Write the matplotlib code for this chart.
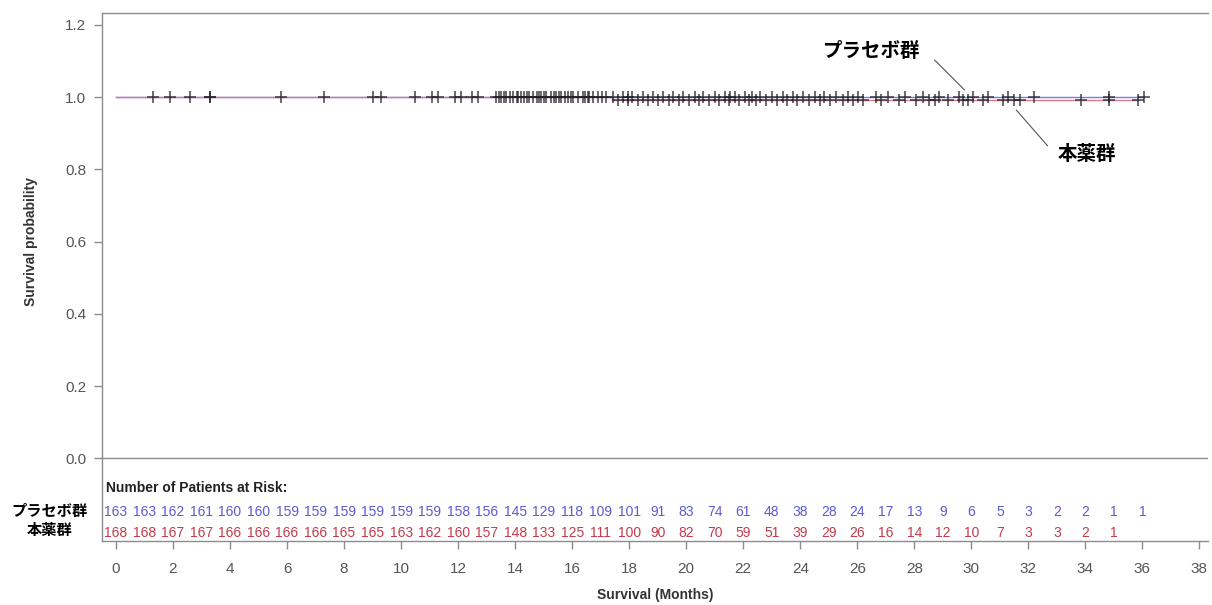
import matplotlib
matplotlib.use('Agg')
import matplotlib.pyplot as plt
import numpy as np

plt.rcParams['font.family'] = ['Liberation Sans', 'DejaVu Sans']

# 時間軸（月）
months_placebo = list(range(0, 37))
months_drug = list(range(0, 36))

# Number of Patients at Risk
risk_placebo = [163, 163, 162, 161, 160, 160, 159, 159, 159, 159, 159, 159, 158, 156, 145, 129,
                118, 109, 101, 91, 83, 74, 61, 48, 38, 28, 24, 17, 13, 9, 6, 5, 3, 2, 2, 1, 1]
risk_drug = [168, 168, 167, 167, 166, 166, 166, 166, 165, 165, 163, 162, 160, 157, 148, 133,
             125, 111, 100, 90, 82, 70, 59, 51, 39, 29, 26, 16, 14, 12, 10, 7, 3, 3, 2, 1]

# 生存曲線（階段関数）
surv_t_placebo = [0.0, 36.05]
surv_placebo = [1.0, 1.0]
surv_t_drug = [0.0, 17.4, 35.85]
surv_drug = [1.0, 0.991, 0.991]

# 打ち切り
censor_placebo = [1.3, 2.6, 3.3, 5.8, 11.3, 12.1, 12.7,
                  13.34, 13.6, 13.67, 13.93, 14.1, 14.22, 14.5, 14.61, 14.92, 15.1, 15.35, 15.45,
                  15.74, 15.95, 16.03, 16.38, 16.6, 16.73, 17.06,
                  17.45, 17.8, 17.95, 18.1, 18.5, 18.85, 19.2, 19.55, 19.9, 20.3, 20.6, 21.0,
                  21.35, 21.55, 21.7, 22.05, 22.3, 22.6, 23.0, 23.4, 23.75, 24.1, 24.5,
                  24.85, 25.26, 25.67, 26.02, 26.66, 27.07, 27.66, 28.30, 28.88, 29.58, 30.05,
                  30.57, 31.28, 32.21, 34.84, 36.05]
censor_drug = [1.9, 3.3, 7.3, 9.0, 9.3, 10.5, 11.1, 11.9, 12.5,
               13.45, 13.52, 13.81, 14.05, 14.3, 14.40, 14.75, 14.85, 15.00, 15.27, 15.55, 15.62,
               15.85, 16.20, 16.45, 16.55, 16.90, 17.20,
               17.6, 17.95, 18.3, 18.65, 19.0, 19.4, 19.75, 20.1, 20.45, 20.8, 21.15, 21.5,
               21.85, 22.2, 22.45, 22.8, 23.2, 23.55, 23.9, 24.3, 24.7,
               25.03, 25.49, 25.84, 26.19, 26.84, 27.48, 28.06, 28.53, 28.71, 29.17, 29.70,
               29.87, 30.40, 31.10, 31.51, 31.69, 33.85, 34.84, 35.85]

label_placebo = 'プラセボ群'
label_drug = '本薬群'
jp_font = ['Noto Sans CJK JP', 'DejaVu Sans']

blue = '#5a5ad8'
red = '#c23b4c'
grey = '#8c8c8c'


def surv_at(t_steps, s_steps, t):
    # 打ち切り時点での生存率
    idx = np.searchsorted(t_steps, t, side='right') - 1
    return np.asarray(s_steps)[np.clip(idx, 0, len(s_steps) - 1)]


fig = plt.figure(figsize=(12.12, 6.05), dpi=100)
ax = fig.add_axes([0.0839, 0.1063, 0.9128, 0.8722])

ax.step(surv_t_placebo, surv_placebo, where='post', color='#7878f0', lw=1.0)
ax.step(surv_t_drug, surv_drug, where='post', color='#e07a86', lw=1.0)

ax.plot(censor_placebo, surv_at(surv_t_placebo, surv_placebo, censor_placebo), '+',
        color='#222222', ms=8, mew=1.1, alpha=0.85)
ax.plot(censor_drug, surv_at(surv_t_drug, surv_drug, censor_drug), '+',
        color='#222222', ms=8, mew=1.1, alpha=0.85)

ax.axhline(0, color=grey, lw=1.0)

ax.set_xlim(-0.5, 38.3)
ax.set_ylim(-0.228, 1.2325)
ax.set_xticks(range(0, 39, 2))
ax.set_yticks([0.0, 0.2, 0.4, 0.6, 0.8, 1.0, 1.2])
ax.set_yticklabels(['0.0', '0.2', '0.4', '0.6', '0.8', '1.0', '1.2'])
ax.tick_params(axis='both', colors=grey, labelcolor='#555555', labelsize=11,
               length=6, width=1)
ax.tick_params(axis='x', pad=9)
ax.tick_params(axis='y', pad=5)
for side in ['left', 'top', 'bottom']:
    ax.spines[side].set_color(grey)
    ax.spines[side].set_linewidth(1.0)
ax.spines['right'].set_visible(False)

ax.set_ylabel('Survival probability', fontsize=10, fontweight='bold', color='#333333')
ax.yaxis.set_label_coords(-0.058, 0.567)
ax.set_xlabel('Survival (Months)', fontsize=10, fontweight='bold', color='#333333',
              labelpad=9)

# at-risk table
ax.text(-0.35, -0.082, 'Number of Patients at Risk:', fontsize=10, fontweight='bold',
        color='#222222', ha='left', va='center')
for m, n in zip(months_placebo, risk_placebo):
    ax.text(m, -0.148, str(n), fontsize=10, color=blue, ha='center', va='center')
for m, n in zip(months_drug, risk_drug):
    ax.text(m, -0.206, str(n), fontsize=10, color=red, ha='center', va='center')

fig.text(50 / 1212, 1 - 511 / 605, label_placebo, fontsize=11, fontweight='bold',
         family=jp_font, ha='center', va='center')
fig.text(50 / 1212, 1 - 530 / 605, label_drug, fontsize=11, fontweight='bold',
         family=jp_font, ha='center', va='center')

# curve labels
ax.text(26.5, 1.125, label_placebo, fontsize=14, fontweight='bold', family=jp_font,
        ha='center', va='center')
ax.annotate('', xy=(29.83, 1.014), xytext=(28.64, 1.108),
            arrowprops=dict(arrowstyle='-', color='#555555', lw=0.8))
ax.text(34.07, 0.84, label_drug, fontsize=14, fontweight='bold', family=jp_font,
        ha='center', va='center')
ax.annotate('', xy=(31.51, 0.97), xytext=(32.74, 0.859),
            arrowprops=dict(arrowstyle='-', color='#555555', lw=0.8))

fig.savefig('out.png', dpi=100)
